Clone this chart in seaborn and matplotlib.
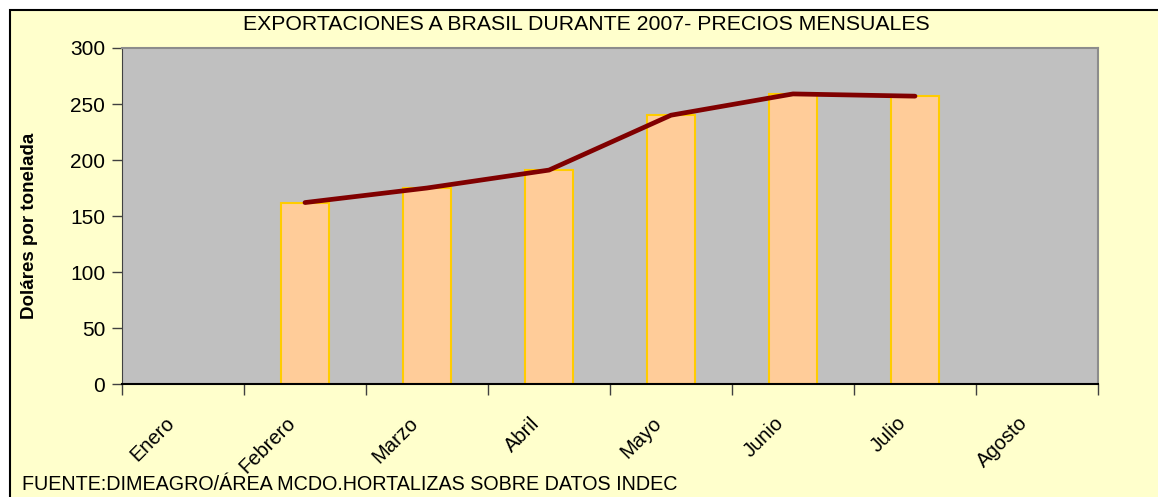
import pandas as pd
import numpy as np
import matplotlib
matplotlib.use('Agg')
import matplotlib.pyplot as plt
import matplotlib.transforms as mtransforms
from matplotlib.patches import Rectangle
import seaborn as sns

# datos
meses = ['Enero', 'Febrero', 'Marzo', 'Abril', 'Mayo', 'Junio', 'Julio', 'Agosto']
meses_con_dato = ['Febrero', 'Marzo', 'Abril', 'Mayo', 'Junio', 'Julio']
precios = [162, 175, 191, 240, 259, 257]
yticks = [0, 50, 100, 150, 200, 250, 300]

titulo = 'EXPORTACIONES A BRASIL DURANTE 2007- PRECIOS MENSUALES'
fuente = 'FUENTE:DIMEAGRO/ÁREA MCDO.HORTALIZAS SOBRE DATOS INDEC'
ylabel = 'Doláres por tonelada'

sns.set_style('white')
plt.rcParams['font.family'] = ['Liberation Sans', 'DejaVu Sans']
plt.rcParams['text.color'] = 'black'
plt.rcParams['xtick.color'] = 'black'
plt.rcParams['ytick.color'] = 'black'

df = pd.DataFrame({'mes': meses_con_dato, 'precio': precios})

fig = plt.figure(figsize=(11.58, 4.97), dpi=100, facecolor='white')
# marco del grafico
fig.patches.append(Rectangle((10 / 1158, -0.05), 1.1, (497 - 10) / 497 + 0.05,
                             transform=fig.transFigure, facecolor='#FFFFCC',
                             edgecolor='black', linewidth=1.5, zorder=-1))
ax = fig.add_axes([122 / 1158, (497 - 384) / 497, (1098 - 122) / 1158, (384 - 48) / 497])
ax.set_facecolor('#C0C0C0')

sns.barplot(data=df, x='mes', y='precio', order=meses, width=0.4,
            color='#FFCC99', edgecolor='#FFCC00', linewidth=1.5,
            saturation=1, ax=ax)
pos = [meses.index(m) for m in meses_con_dato]
sns.lineplot(x=pos, y=precios, color='#800000', linewidth=3.4,
             solid_capstyle='round', ax=ax)

ax.set_xlim(-0.5, len(meses) - 0.5)
ax.set_ylim(0, 300)
ax.set_yticks(yticks)
ax.set_yticklabels([str(v) for v in yticks], fontsize=15)
ax.tick_params(axis='y', direction='out', length=7, width=1, color='#404040', pad=5, left=True)

# ticks en los limites de categoria, etiquetas en el centro
ax.set_xticks(np.arange(-0.5, len(meses), 1.0))
ax.set_xticklabels([])
ax.tick_params(axis='x', which='major', direction='out', length=8, width=1, color='#404040', bottom=True)
ax.set_xticks(np.arange(len(meses)), minor=True)
ax.set_xticklabels(meses, minor=True, rotation=45, ha='right', va='center',
                   rotation_mode='anchor', fontsize=14.5)
ax.tick_params(axis='x', which='minor', length=0, pad=26)
off = mtransforms.ScaledTranslation(-12 / 100, 0, fig.dpi_scale_trans)
for lab in ax.get_xticklabels(minor=True):
    lab.set_transform(lab.get_transform() + off)

ax.set_xlabel('')
ax.set_ylabel('')
for s in ['top', 'right']:
    ax.spines[s].set_color('#8C8C8C')
    ax.spines[s].set_linewidth(1.5)
ax.spines['left'].set_color('#404040')
ax.spines['bottom'].set_color('black')
ax.spines['bottom'].set_linewidth(1.5)

fig.text(586 / 1158, 1 - 25 / 497, titulo, ha='center', va='center', fontsize=15.3)
fig.text(30 / 1158, 1 - 226 / 497, ylabel, ha='center', va='center', rotation=90,
         fontsize=13.5, fontweight='bold')
fig.text(22 / 1158, 3 / 497, fuente, ha='left', va='bottom', fontsize=14.2)

fig.savefig('out.png', dpi=100, facecolor='white')
